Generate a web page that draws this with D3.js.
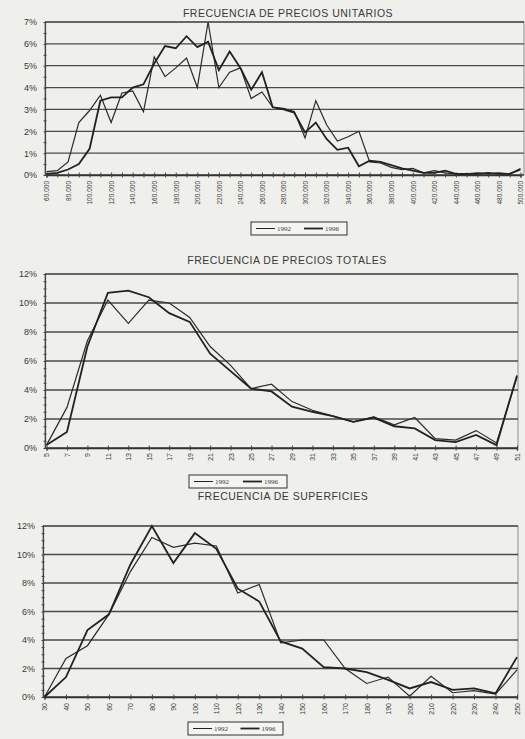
<!DOCTYPE html>
<html>
<head>
<meta charset="utf-8">
<script src="https://cdn.jsdelivr.net/npm/d3@7"></script>
<style>
	body { margin: 0; background: #efefec; }
	svg { display: block; }
	text { font-family: "Liberation Sans", Arial, sans-serif; fill: #3a3a3a; }
	.legend text { font-family: "Liberation Serif", "Times New Roman", serif; }
</style>
</head>
<body>
<svg id="chart"></svg>
<script>
// --- Frecuencia de precios unitarios (pesetas/m2) ---
const unitCats = [60000, 70000, 80000, 90000, 100000, 110000, 120000, 130000, 140000, 150000,
	160000, 170000, 180000, 190000, 200000, 210000, 220000, 230000, 240000, 250000,
	260000, 270000, 280000, 290000, 300000, 310000, 320000, 330000, 340000, 350000,
	360000, 370000, 380000, 390000, 400000, 410000, 420000, 430000, 440000, 450000,
	460000, 470000, 480000, 490000, 500000];
const unitTicks = [60000, 80000, 100000, 120000, 140000, 160000, 180000, 200000, 220000, 240000,
	260000, 280000, 300000, 320000, 340000, 360000, 380000, 400000, 420000, 440000,
	460000, 480000, 500000];
const unitTickLabels = ["60.000", "80.000", "100.000", "120.000", "140.000", "160.000", "180.000",
	"200.000", "220.000", "240.000", "260.000", "280.000", "300.000", "320.000", "340.000",
	"360.000", "380.000", "400.000", "420.000", "440.000", "460.000", "480.000", "500.000"];
const unit1992 = [0.15, 0.2, 0.6, 2.4, 2.95, 3.65, 2.4, 3.75, 3.85, 2.9,
	5.4, 4.5, 4.9, 5.35, 4.0, 7.0, 4.0, 4.7, 4.9, 3.5,
	3.8, 3.1, 3.05, 2.9, 1.7, 3.4, 2.3, 1.55, 1.75, 2.0,
	0.6, 0.55, 0.35, 0.25, 0.3, 0.1, 0.2, 0.1, 0.05, 0.05,
	0.1, 0.05, 0.1, 0.05, 0.3];
const unit1996 = [0.05, 0.1, 0.25, 0.5, 1.2, 3.4, 3.55, 3.55, 4.0, 4.15,
	5.1, 5.9, 5.8, 6.35, 5.85, 6.1, 4.8, 5.65, 4.9, 3.9,
	4.7, 3.1, 3.0, 2.85, 1.95, 2.4, 1.65, 1.15, 1.25, 0.4,
	0.65, 0.6, 0.45, 0.3, 0.2, 0.1, 0.1, 0.2, 0.05, 0.05,
	0.05, 0.1, 0.05, 0.05, 0.25];

// --- Frecuencia de precios totales (millones) ---
const totalCats = [5, 7, 9, 11, 13, 15, 17, 19, 21, 23, 25, 27, 29, 31, 33, 35, 37, 39, 41, 43, 45, 47, 49, 51];
const total1992 = [0.2, 2.8, 7.4, 10.2, 8.6, 10.2, 10.0, 9.0, 7.0, 5.7, 4.1, 4.4,
	3.2, 2.6, 2.2, 1.8, 2.15, 1.6, 2.1, 0.65, 0.55, 1.2, 0.35, 4.9];
const total1996 = [0.2, 1.1, 7.0, 10.7, 10.85, 10.4, 9.3, 8.7, 6.5, 5.3, 4.1, 3.9,
	2.85, 2.5, 2.2, 1.8, 2.1, 1.5, 1.35, 0.55, 0.4, 0.9, 0.2, 5.0];

// --- Frecuencia de superficies (m2) ---
const surfCats = [30, 40, 50, 60, 70, 80, 90, 100, 110, 120, 130, 140, 150, 160, 170, 180, 190, 200, 210, 220, 230, 240, 250];
const surf1992 = [0, 2.7, 3.6, 5.8, 8.8, 11.2, 10.5, 10.8, 10.6, 7.3, 7.9, 3.8,
	4.0, 4.0, 2.0, 0.95, 1.4, 0.05, 1.45, 0.3, 0.45, 0.2, 1.9];
const surf1996 = [0, 1.4, 4.7, 5.8, 9.3, 12.0, 9.4, 11.5, 10.4, 7.6, 6.7, 3.9,
	3.4, 2.1, 2.0, 1.75, 1.2, 0.6, 1.05, 0.5, 0.6, 0.25, 2.8];

const seriesNames = ["1992", "1996"];

const width = 525;
const height = 739;

const svg = d3.select("#chart")
	.attr("width", width)
	.attr("height", height);

function drawPanel(p) {
	const g = svg.append("g");

	const x = d3.scalePoint()
		.domain(p.cats)
		.range([p.left + 1.5, p.right]);

	const y = d3.scaleLinear()
		.domain([0, p.yMax])
		.range([p.bottom, p.top]);

	// title
	g.append("text")
		.attr("x", p.titleX)
		.attr("y", p.titleY)
		.attr("text-anchor", "middle")
		.style("font-size", "10.5px")
		.style("letter-spacing", "0.5px")
		.text(p.title);

	// frame
	g.append("rect")
		.attr("x", p.left)
		.attr("y", p.top)
		.attr("width", p.frameRight - p.left)
		.attr("height", p.bottom - p.top)
		.attr("fill", "none")
		.attr("stroke", "#777")
		.attr("stroke-width", 0.8);

	// horizontal grid
	g.append("g")
		.selectAll("line")
		.data(y.ticks(p.yMax / p.yStep))
		.join("line")
		.attr("x1", p.left)
		.attr("x2", p.frameRight)
		.attr("y1", d => y(d))
		.attr("y2", d => y(d))
		.attr("stroke", "#4a4a4a")
		.attr("stroke-width", 1.3);

	// y axis with labels
	const yAxis = g.append("g")
		.attr("transform", `translate(${p.left},0)`)
		.call(d3.axisLeft(y)
			.ticks(p.yMax / p.yStep)
			.tickFormat(d => d + "%")
			.tickSize(0)
			.tickPadding(8));
	yAxis.select(".domain").attr("stroke", "#444").attr("stroke-width", 1.2);
	yAxis.selectAll(".tick text")
		.style("font-size", "9px")
		.style("font-family", "'Liberation Sans', Arial, sans-serif")
		.attr("fill", "#555");

	// minor ticks on the y axis
	g.append("g")
		.attr("transform", `translate(${p.left + 1.5},0)`)
		.call(d3.axisLeft(y).ticks(p.yMax * 2).tickFormat("").tickSize(3))
		.call(a => a.select(".domain").remove())
		.selectAll("line").attr("stroke", "#666");

	// x axis: crossing tick marks
	const xAxis = g.append("g")
		.attr("transform", `translate(0,${p.bottom})`)
		.call(d3.axisBottom(x).tickValues(p.cats).tickFormat("").tickSize(2.5));
	xAxis.select(".domain").attr("stroke", "#333").attr("stroke-width", 1.4);
	g.append("g")
		.attr("transform", `translate(0,${p.bottom})`)
		.call(d3.axisTop(x).tickValues(p.cats).tickFormat("").tickSize(2.5))
		.call(a => a.select(".domain").remove());
	g.selectAll(".tick line").attr("stroke", "#444");

	// x labels, rotated
	const labels = g.append("g")
		.attr("transform", `translate(0,${p.bottom + p.labelGap})`)
		.call(d3.axisBottom(x)
			.tickValues(p.ticks)
			.tickFormat((d, i) => p.tickLabels[i])
			.tickSize(0)
			.tickPadding(0));
	labels.select(".domain").remove();
	labels.selectAll(".tick text")
		.attr("transform", "rotate(-90)")
		.attr("text-anchor", "end")
		.attr("x", 0)
		.attr("y", 0)
		.attr("dy", "0.35em")
		.style("font-size", p.labelSize + "px")
		.style("font-family", "'Liberation Sans', Arial, sans-serif")
		.attr("fill", "#555");

	// series lines
	const line = d3.line()
		.x((d, i) => x(p.cats[i]))
		.y(d => y(d));

	g.append("path")
		.datum(p.s1992)
		.attr("d", line)
		.attr("fill", "none")
		.attr("stroke", "#2b2b2b")
		.attr("stroke-width", 1.2)
		.attr("stroke-linejoin", "miter");

	g.append("path")
		.datum(p.s1996)
		.attr("d", line)
		.attr("fill", "none")
		.attr("stroke", "#222")
		.attr("stroke-width", 1.8)
		.attr("stroke-linejoin", "miter");

	// legend
	const lg = g.append("g")
		.attr("class", "legend")
		.attr("transform", `translate(${p.legend[0]},${p.legend[1]})`);
	lg.append("rect")
		.attr("width", p.legend[2])
		.attr("height", 13)
		.attr("fill", "#f4f4f2")
		.attr("stroke", "#333")
		.attr("stroke-width", 1);
	const step = p.legend[2] / 2;
	seriesNames.forEach((name, i) => {
		lg.append("line")
			.attr("x1", 5 + i * step)
			.attr("x2", 24 + i * step)
			.attr("y1", 6.5)
			.attr("y2", 6.5)
			.attr("stroke", "#222")
			.attr("stroke-width", i === 0 ? 1 : 1.8);
		lg.append("text")
			.attr("x", 26 + i * step)
			.attr("y", 9)
			.style("font-size", "7px")
			.attr("fill", "#222")
			.text(name);
	});
}

drawPanel({
	title: "FRECUENCIA DE PRECIOS UNITARIOS",
	titleX: 288, titleY: 17,
	cats: unitCats, ticks: unitTicks, tickLabels: unitTickLabels,
	s1992: unit1992, s1996: unit1996,
	yMax: 7, yStep: 1,
	left: 45, right: 520.5, frameRight: 524, top: 22, bottom: 175,
	labelGap: 6, labelSize: 6.5,
	legend: [251, 222, 96]
});

drawPanel({
	title: "FRECUENCIA DE PRECIOS TOTALES",
	titleX: 287, titleY: 264,
	cats: totalCats, ticks: totalCats, tickLabels: totalCats.map(String),
	s1992: total1992, s1996: total1996,
	yMax: 12, yStep: 2,
	left: 45, right: 517, frameRight: 518, top: 274, bottom: 448,
	labelGap: 5, labelSize: 7,
	legend: [189, 475, 98]
});

drawPanel({
	title: "FRECUENCIA DE SUPERFICIES",
	titleX: 283, titleY: 500,
	cats: surfCats, ticks: surfCats, tickLabels: surfCats.map(String),
	s1992: surf1992, s1996: surf1996,
	yMax: 12, yStep: 2,
	left: 43, right: 517, frameRight: 518, top: 526, bottom: 697,
	labelGap: 6, labelSize: 7,
	legend: [188, 722, 95]
});
</script>
</body>
</html>
